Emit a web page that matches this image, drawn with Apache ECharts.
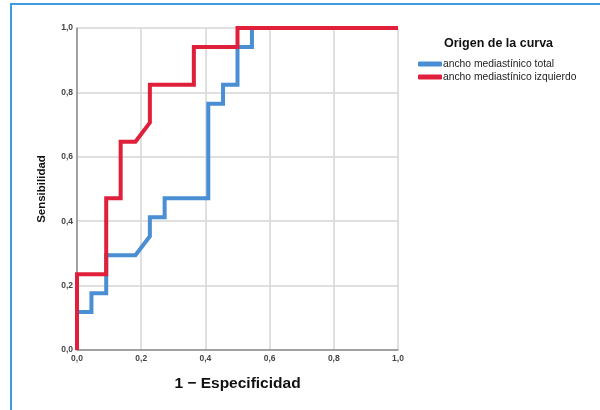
<!DOCTYPE html>
<html>
<head>
<meta charset="utf-8">
<script src="https://cdn.jsdelivr.net/npm/echarts@6/dist/echarts.min.js"></script>
<style>
  html, body { margin: 0; padding: 0; background: #fff; }
  #frame { position: absolute; left: 10px; top: 3px; width: 600px; height: 420px;
           border-left: 2px solid #3f9be0; border-top: 2px solid #3f9be0; box-sizing: border-box; }
  #chart { position: absolute; left: 0; top: 0; width: 600px; height: 410px; }
</style>
</head>
<body>
<div id="frame"></div>
<div id="chart"></div>
<script>
// ---- data ----
const seriesNames = ['ancho mediastínico total', 'ancho mediastínico izquierdo'];
const fprTotal  = [0, 0, 0.045, 0.045, 0.091, 0.091, 0.182, 0.227, 0.227, 0.273, 0.273, 0.409, 0.409, 0.455, 0.455, 0.5, 0.5, 0.545, 0.545, 1];
const sensTotal = [0, 0.118, 0.118, 0.176, 0.176, 0.294, 0.294, 0.353, 0.412, 0.412, 0.471, 0.471, 0.765, 0.765, 0.824, 0.824, 0.941, 0.941, 1, 1];
const fprLeft   = [0, 0, 0.091, 0.091, 0.136, 0.136, 0.182, 0.227, 0.227, 0.364, 0.364, 0.5, 0.5, 1];
const sensLeft  = [0, 0.235, 0.235, 0.471, 0.471, 0.647, 0.647, 0.706, 0.824, 0.824, 0.941, 0.941, 1, 1];
const tickValues = [0, 0.2, 0.4, 0.6, 0.8, 1.0];

const pairs = (xs, ys) => xs.map((x, i) => [x, ys[i]]);
const fmt = v => v.toFixed(1).replace('.', ',');

const chart = echarts.init(document.getElementById('chart'), null, { renderer: 'canvas' });
const FONT = 'Liberation Sans, Arial, sans-serif';

const axisCommon = {
  type: 'value', min: tickValues[0], max: tickValues[tickValues.length - 1], interval: 0.2,
  axisLine: { show: true, lineStyle: { color: '#8c8c8c', width: 1.5 } },
  axisTick: { show: false },
  splitLine: { show: true, lineStyle: { color: '#d6d6d6', width: 1.5 } },
  axisLabel: { formatter: fmt, color: '#444', fontSize: 8.5, fontWeight: 'bold', fontFamily: FONT },
  nameLocation: 'middle',
  nameTextStyle: { color: '#111', fontWeight: 'bold', fontFamily: FONT }
};

chart.setOption({
  animation: false,
  backgroundColor: 'transparent',
  title: {
    text: 'Origen de la curva', left: 439, top: 32,
    textStyle: { fontSize: 12.5, fontWeight: 'bold', color: '#111', fontFamily: FONT }
  },
  legend: {
    orient: 'vertical', left: 413, top: 54, itemGap: 3,
    itemWidth: 24, itemHeight: 5, icon: 'roundRect',
    textStyle: { fontSize: 10.3, color: '#222', fontFamily: FONT, padding: [0, 0, 0, -4] },
    data: seriesNames
  },
  grid: { left: 77, right: 202, top: 28, bottom: 60, containLabel: false },
  xAxis: Object.assign({}, axisCommon, {
    name: '1 − Especificidad', nameGap: 26,
    nameTextStyle: Object.assign({}, axisCommon.nameTextStyle, { fontSize: 15.5 }),
    axisLabel: Object.assign({}, axisCommon.axisLabel, { margin: 4 })
  }),
  yAxis: Object.assign({}, axisCommon, {
    name: 'Sensibilidad', nameGap: 29, nameRotate: 90,
    nameTextStyle: Object.assign({}, axisCommon.nameTextStyle, { fontSize: 11.5 }),
    axisLabel: Object.assign({}, axisCommon.axisLabel, { margin: 4 })
  }),
  series: [
    { name: seriesNames[0], type: 'line', data: pairs(fprTotal, sensTotal),
      showSymbol: false, clip: false, color: '#4a8ed3',
      lineStyle: { width: 4, color: '#4a8ed3', join: 'miter' } },
    { name: seriesNames[1], type: 'line', data: pairs(fprLeft, sensLeft),
      showSymbol: false, clip: false, color: '#e01f3a',
      lineStyle: { width: 4, color: '#e01f3a', join: 'miter' } }
  ]
});
</script>
</body>
</html>
